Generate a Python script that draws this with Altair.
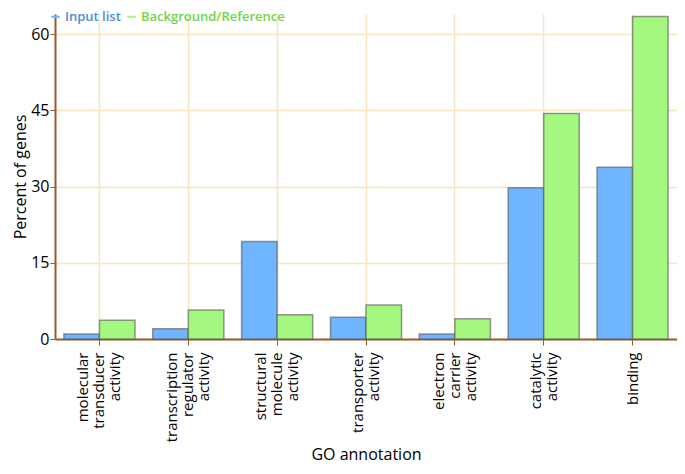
import altair as alt
import pandas as pd

categories = [
    "molecular transducer activity",
    "transcription regulator activity",
    "structural molecule activity",
    "transporter activity",
    "electron carrier activity",
    "catalytic activity",
    "binding",
]
series_names = ["Input list", "Background/Reference"]
input_list = [1.0, 2.0, 19.2, 4.3, 1.0, 29.8, 33.8]
background = [3.7, 5.7, 4.8, 6.7, 4.0, 44.4, 63.5]
y_ticks = [0, 15, 30, 45, 60]

rows = []
for c, a, b in zip(categories, input_list, background):
    rows.append({"cat": c, "series": series_names[0], "value": a})
    rows.append({"cat": c, "series": series_names[1], "value": b})
df = pd.DataFrame(rows)

FONT = "Open Sans"
BROWN = "#9a5a2a"
GRID = "#f8e6c0"

chart = alt.Chart(df).mark_bar(
    stroke="#555555", strokeOpacity=0.6, strokeWidth=1.5
).encode(
    x=alt.X(
        "cat:N",
        sort=categories,
        scale=alt.Scale(paddingInner=0.2, paddingOuter=0.1),
        axis=alt.Axis(
            title="GO annotation",
            labelAngle=-90,
            labelExpr="split(datum.label, ' ')",
            labelOffset={"expr": "-(length(split(datum.label, ' ')) - 1) * 8"},
            labelFont=FONT,
            labelFontSize=15,
            labelLineHeight=16,
            labelColor="#000000",
            labelPadding=7,
            titleFont=FONT,
            titleFontSize=16,
            titleFontWeight="normal",
            titleColor="#000000",
            titlePadding=5,
            domainColor=BROWN,
            domainWidth=2,
            tickColor=BROWN,
            tickSize=6,
            grid=True,
            gridColor=GRID,
            gridWidth=1.5,
            bandPosition=0.5,
        ),
    ),
    xOffset=alt.XOffset("series:N", sort=series_names),
    y=alt.Y(
        "value:Q",
        scale=alt.Scale(domain=[0, 64], nice=False),
        axis=alt.Axis(
            title="Percent of genes",
            values=y_ticks,
            labelFont=FONT,
            labelFontSize=16,
            labelColor="#000000",
            labelPadding=1,
            titleFont=FONT,
            titleFontSize=16,
            titleFontWeight="normal",
            titleColor="#000000",
            titlePadding=2,
            domainColor=BROWN,
            domainWidth=2,
            tickColor=BROWN,
            tickSize=5,
            gridColor=GRID,
            gridWidth=1.5,
        ),
    ),
    color=alt.Color(
        "series:N",
        sort=series_names,
        scale=alt.Scale(domain=series_names, range=["#6fb5ff", "#a4f77f"]),
        legend=alt.Legend(
            title=None,
            orient="none",
            legendX=-6,
            legendY=-4,
            direction="horizontal",
            symbolType="M-1,-0.25L1,-0.25L1,0.25L-1,0.25Z",
            symbolStrokeWidth=0,
            symbolSize=70,
            symbolOpacity=1,
            labelFont=FONT,
            labelFontSize=13,
            labelFontWeight=600,
            labelOffset=3,
            labelColor={"expr": "datum.label == 'Input list' ? '#4a90d9' : '#6fd64a'"},
            columnPadding=4,
        ),
    ),
).properties(
    width=622,
    height=325,
    autosize=alt.AutoSizeParams(type="none"),
    padding={"left": 47, "top": 6, "right": 0, "bottom": 127},
).configure_view(stroke=None)

chart.save("out.html", embed_options={"renderer": "svg", "actions": False})
